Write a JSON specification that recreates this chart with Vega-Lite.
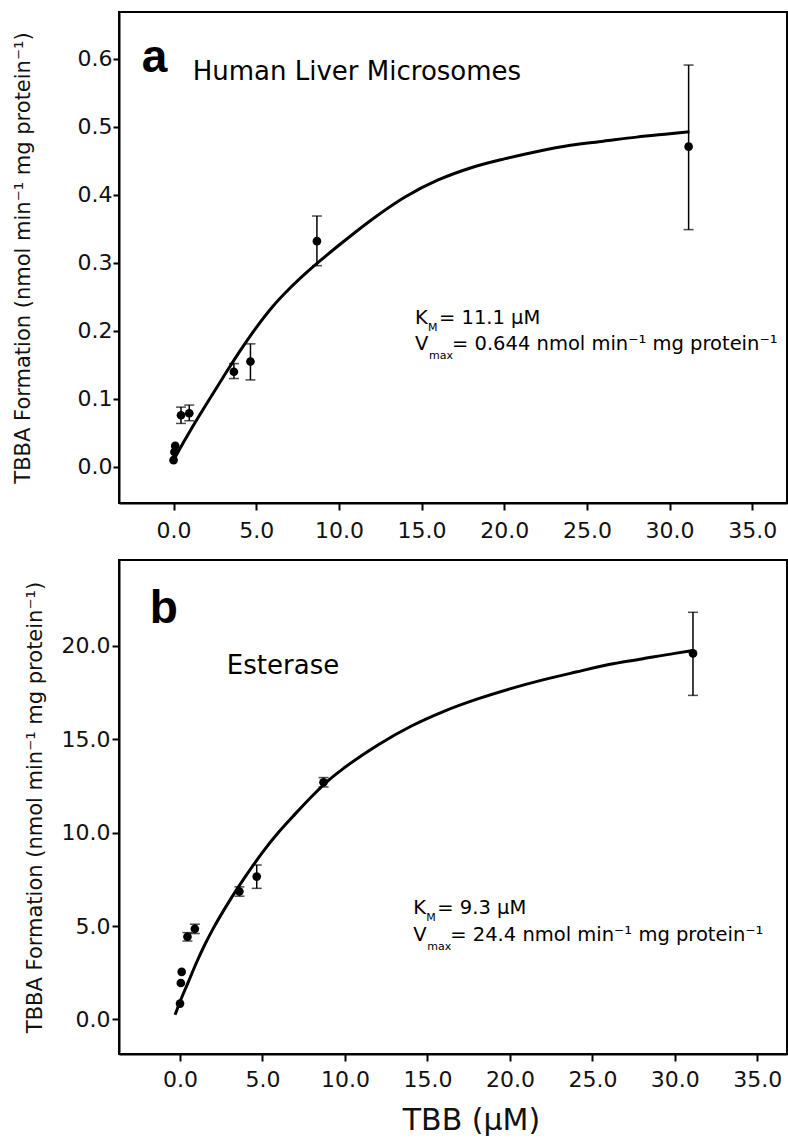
{
  "$schema": "https://vega.github.io/schema/vega-lite/v6.json",
  "background": "white",
  "padding": {"left": 10, "top": 11, "right": 0, "bottom": 0},
  "spacing": 17,
  "config": {
    "font": "DejaVu Sans",
    "view": {"stroke": "black", "strokeWidth": 2},
    "axis": {
      "grid": false,
      "domainColor": "black",
      "domainWidth": 2,
      "tickColor": "black",
      "tickWidth": 2,
      "labelFont": "DejaVu Sans",
      "labelFontSize": 22,
      "labelColor": "#111111",
      "titleFont": "DejaVu Sans",
      "titleFontWeight": "normal",
      "titleColor": "#111111"
    }
  },
  "datasets": {
    "curveA": [
      {"x": 0, "y": 0.010}, {"x": 0.5, "y": 0.032}, {"x": 1, "y": 0.053}, {"x": 2, "y": 0.093},
      {"x": 3, "y": 0.132}, {"x": 4, "y": 0.170}, {"x": 5, "y": 0.205}, {"x": 6, "y": 0.236},
      {"x": 7, "y": 0.262}, {"x": 8, "y": 0.285}, {"x": 9, "y": 0.306}, {"x": 10, "y": 0.326},
      {"x": 12, "y": 0.364}, {"x": 14, "y": 0.397}, {"x": 16, "y": 0.422}, {"x": 18, "y": 0.440},
      {"x": 20, "y": 0.453}, {"x": 22, "y": 0.464}, {"x": 24, "y": 0.473}, {"x": 26, "y": 0.479},
      {"x": 28, "y": 0.485}, {"x": 30, "y": 0.490}, {"x": 31.2, "y": 0.493}
    ],
    "pointsA": [
      {"x": 0.0, "y": 0.010, "lo": null, "hi": null},
      {"x": 0.05, "y": 0.022, "lo": null, "hi": null},
      {"x": 0.1, "y": 0.031, "lo": null, "hi": null},
      {"x": 0.45, "y": 0.076, "lo": 0.064, "hi": 0.088},
      {"x": 0.95, "y": 0.079, "lo": 0.068, "hi": 0.091},
      {"x": 3.65, "y": 0.140, "lo": 0.130, "hi": 0.152},
      {"x": 4.65, "y": 0.155, "lo": 0.128, "hi": 0.181},
      {"x": 8.67, "y": 0.332, "lo": 0.296, "hi": 0.369},
      {"x": 31.15, "y": 0.471, "lo": 0.349, "hi": 0.591}
    ],
    "textA": [
      {"role": "letter", "text": "a", "x": -1.92, "y": 0.581},
      {"role": "title", "text": "Human Liver Microsomes", "x": 1.16, "y": 0.569},
      {"role": "main", "text": "K", "x": 14.6, "y": 0.210},
      {"role": "subK", "text": "M", "x": 14.6, "y": 0.210},
      {"role": "restK", "text": "= 11.1 μM", "x": 14.6, "y": 0.210},
      {"role": "main", "text": "V", "x": 14.6, "y": 0.172},
      {"role": "subV", "text": "max", "x": 14.6, "y": 0.172},
      {"role": "restV", "text": "= 0.644 nmol min⁻¹ mg protein⁻¹", "x": 14.6, "y": 0.172}
    ],
    "curveB": [
      {"x": -0.3, "y": 0.25}, {"x": 0, "y": 0.95}, {"x": 0.5, "y": 2.0}, {"x": 1, "y": 3.05},
      {"x": 1.5, "y": 4.0}, {"x": 2, "y": 4.85}, {"x": 3, "y": 6.35}, {"x": 4, "y": 7.7},
      {"x": 5, "y": 8.95}, {"x": 6, "y": 10.05}, {"x": 7, "y": 11.02}, {"x": 8, "y": 11.95},
      {"x": 9, "y": 12.8}, {"x": 10, "y": 13.5}, {"x": 12, "y": 14.7}, {"x": 14, "y": 15.7},
      {"x": 16, "y": 16.5}, {"x": 18, "y": 17.15}, {"x": 20, "y": 17.7}, {"x": 22, "y": 18.18},
      {"x": 24, "y": 18.6}, {"x": 26, "y": 19.0}, {"x": 28, "y": 19.3}, {"x": 30, "y": 19.6},
      {"x": 31.1, "y": 19.75}
    ],
    "pointsB": [
      {"x": 0.0, "y": 0.85, "lo": null, "hi": null},
      {"x": 0.05, "y": 1.95, "lo": null, "hi": null},
      {"x": 0.1, "y": 2.55, "lo": null, "hi": null},
      {"x": 0.45, "y": 4.43, "lo": 4.2, "hi": 4.65},
      {"x": 0.9, "y": 4.85, "lo": 4.6, "hi": 5.1},
      {"x": 3.6, "y": 6.85, "lo": 6.6, "hi": 7.1},
      {"x": 4.65, "y": 7.65, "lo": 7.02, "hi": 8.27},
      {"x": 8.7, "y": 12.7, "lo": 12.45, "hi": 12.95},
      {"x": 31.1, "y": 19.6, "lo": 17.35, "hi": 21.8}
    ],
    "textB": [
      {"role": "letter", "text": "b", "x": -1.83, "y": 21.25},
      {"role": "title", "text": "Esterase", "x": 2.84, "y": 18.49},
      {"role": "main", "text": "K", "x": 14.14, "y": 5.645},
      {"role": "subK", "text": "M", "x": 14.14, "y": 5.645},
      {"role": "restK", "text": "= 9.3 μM", "x": 14.14, "y": 5.645},
      {"role": "main", "text": "V", "x": 14.14, "y": 4.216},
      {"role": "subV", "text": "max", "x": 14.14, "y": 4.216},
      {"role": "restV", "text": "= 24.4 nmol min⁻¹ mg protein⁻¹", "x": 14.14, "y": 4.216}
    ]
  },
  "vconcat": [
    {
      "width": 668,
      "height": 491,
      "layer": [
        {
          "data": {"name": "curveA"},
          "mark": {"type": "line", "color": "black", "strokeWidth": 3, "interpolate": "monotone"},
          "encoding": {
            "x": {"field": "x", "type": "quantitative", "title": null,
              "scale": {"domain": [-3.3, 37.1], "nice": false, "zero": false},
              "axis": {"values": [0, 5, 10, 15, 20, 25, 30, 35], "format": ".1f", "title": null, "tickSize": 7, "labelPadding": 10}},
            "y": {"field": "y", "type": "quantitative", "title": "TBBA Formation (nmol min⁻¹ mg protein⁻¹)",
              "scale": {"domain": [-0.053, 0.669], "nice": false, "zero": false},
              "axis": {"values": [0, 0.1, 0.2, 0.3, 0.4, 0.5, 0.6], "format": ".1f",
                "title": "TBBA Formation (nmol min⁻¹ mg protein⁻¹)", "titleFontSize": 21, "titleX": -86,
                "tickSize": 6, "labelPadding": 1}}
          }
        },
        {
          "data": {"name": "pointsA"},
          "transform": [{"filter": "datum.lo != null"}],
          "mark": {"type": "errorbar", "color": "black", "thickness": 1.5, "ticks": {"size": 10, "thickness": 1.5}},
          "encoding": {
            "x": {"field": "x", "type": "quantitative", "title": null},
            "y": {"field": "lo", "type": "quantitative", "title": "TBBA Formation (nmol min⁻¹ mg protein⁻¹)"},
            "y2": {"field": "hi"}
          }
        },
        {
          "data": {"name": "pointsA"},
          "mark": {"type": "point", "filled": true, "color": "black", "opacity": 1, "size": 75},
          "encoding": {
            "x": {"field": "x", "type": "quantitative", "title": null},
            "y": {"field": "y", "type": "quantitative", "title": "TBBA Formation (nmol min⁻¹ mg protein⁻¹)"}
          }
        },
        {
          "data": {"name": "textA"},
          "transform": [{"filter": "datum.role == 'letter'"}],
          "mark": {"type": "text", "font": "Liberation Sans", "fontWeight": "bold", "fontSize": 46, "align": "left", "baseline": "alphabetic", "color": "black"},
          "encoding": {"x": {"field": "x", "type": "quantitative"}, "y": {"field": "y", "type": "quantitative"}, "text": {"field": "text"}}
        },
        {
          "data": {"name": "textA"},
          "transform": [{"filter": "datum.role == 'title'"}],
          "mark": {"type": "text", "fontSize": 26, "align": "left", "baseline": "alphabetic", "color": "black"},
          "encoding": {"x": {"field": "x", "type": "quantitative"}, "y": {"field": "y", "type": "quantitative"}, "text": {"field": "text"}}
        },
        {
          "data": {"name": "textA"},
          "transform": [{"filter": "datum.role == 'main'"}],
          "mark": {"type": "text", "fontSize": 19.5, "align": "left", "baseline": "alphabetic", "color": "black"},
          "encoding": {"x": {"field": "x", "type": "quantitative"}, "y": {"field": "y", "type": "quantitative"}, "text": {"field": "text"}}
        },
        {
          "data": {"name": "textA"},
          "transform": [{"filter": "datum.role == 'subK'"}],
          "mark": {"type": "text", "fontSize": 11, "align": "left", "baseline": "alphabetic", "color": "black", "dx": 13, "dy": 7},
          "encoding": {"x": {"field": "x", "type": "quantitative"}, "y": {"field": "y", "type": "quantitative"}, "text": {"field": "text"}}
        },
        {
          "data": {"name": "textA"},
          "transform": [{"filter": "datum.role == 'restK'"}],
          "mark": {"type": "text", "fontSize": 19.5, "align": "left", "baseline": "alphabetic", "color": "black", "dx": 24},
          "encoding": {"x": {"field": "x", "type": "quantitative"}, "y": {"field": "y", "type": "quantitative"}, "text": {"field": "text"}}
        },
        {
          "data": {"name": "textA"},
          "transform": [{"filter": "datum.role == 'subV'"}],
          "mark": {"type": "text", "fontSize": 11, "align": "left", "baseline": "alphabetic", "color": "black", "dx": 14, "dy": 9},
          "encoding": {"x": {"field": "x", "type": "quantitative"}, "y": {"field": "y", "type": "quantitative"}, "text": {"field": "text"}}
        },
        {
          "data": {"name": "textA"},
          "transform": [{"filter": "datum.role == 'restV'"}],
          "mark": {"type": "text", "fontSize": 19.5, "align": "left", "baseline": "alphabetic", "color": "black", "dx": 37},
          "encoding": {"x": {"field": "x", "type": "quantitative"}, "y": {"field": "y", "type": "quantitative"}, "text": {"field": "text"}}
        }
      ]
    },
    {
      "width": 668,
      "height": 494,
      "layer": [
        {
          "data": {"name": "curveB"},
          "mark": {"type": "line", "color": "black", "strokeWidth": 3, "interpolate": "monotone"},
          "encoding": {
            "x": {"field": "x", "type": "quantitative", "title": "TBB (μM)",
              "scale": {"domain": [-3.7, 36.8], "nice": false, "zero": false},
              "axis": {"values": [0, 5, 10, 15, 20, 25, 30, 35], "format": ".1f", "title": "TBB (μM)", "titleFontSize": 30,
                "titleX": 352, "titleY": 51, "tickSize": 7, "labelPadding": 8}},
            "y": {"field": "y", "type": "quantitative", "title": "TBBA Formation (nmol min⁻¹ mg protein⁻¹)",
              "scale": {"domain": [-1.85, 24.6], "nice": false, "zero": false},
              "axis": {"values": [0, 5, 10, 15, 20], "format": ".1f",
                "title": "TBBA Formation (nmol min⁻¹ mg protein⁻¹)", "titleFontSize": 21, "titleX": -74,
                "tickSize": 7, "labelPadding": 2}}
          }
        },
        {
          "data": {"name": "pointsB"},
          "transform": [{"filter": "datum.lo != null"}],
          "mark": {"type": "errorbar", "color": "black", "thickness": 1.5, "ticks": {"size": 10, "thickness": 1.5}},
          "encoding": {
            "x": {"field": "x", "type": "quantitative", "title": "TBB (μM)"},
            "y": {"field": "lo", "type": "quantitative", "title": "TBBA Formation (nmol min⁻¹ mg protein⁻¹)"},
            "y2": {"field": "hi"}
          }
        },
        {
          "data": {"name": "pointsB"},
          "mark": {"type": "point", "filled": true, "color": "black", "opacity": 1, "size": 75},
          "encoding": {
            "x": {"field": "x", "type": "quantitative", "title": "TBB (μM)"},
            "y": {"field": "y", "type": "quantitative", "title": "TBBA Formation (nmol min⁻¹ mg protein⁻¹)"}
          }
        },
        {
          "data": {"name": "textB"},
          "transform": [{"filter": "datum.role == 'letter'"}],
          "mark": {"type": "text", "font": "Liberation Sans", "fontWeight": "bold", "fontSize": 46, "align": "left", "baseline": "alphabetic", "color": "black"},
          "encoding": {"x": {"field": "x", "type": "quantitative"}, "y": {"field": "y", "type": "quantitative"}, "text": {"field": "text"}}
        },
        {
          "data": {"name": "textB"},
          "transform": [{"filter": "datum.role == 'title'"}],
          "mark": {"type": "text", "fontSize": 26, "align": "left", "baseline": "alphabetic", "color": "black"},
          "encoding": {"x": {"field": "x", "type": "quantitative"}, "y": {"field": "y", "type": "quantitative"}, "text": {"field": "text"}}
        },
        {
          "data": {"name": "textB"},
          "transform": [{"filter": "datum.role == 'main'"}],
          "mark": {"type": "text", "fontSize": 19.5, "align": "left", "baseline": "alphabetic", "color": "black"},
          "encoding": {"x": {"field": "x", "type": "quantitative"}, "y": {"field": "y", "type": "quantitative"}, "text": {"field": "text"}}
        },
        {
          "data": {"name": "textB"},
          "transform": [{"filter": "datum.role == 'subK'"}],
          "mark": {"type": "text", "fontSize": 11, "align": "left", "baseline": "alphabetic", "color": "black", "dx": 13, "dy": 7},
          "encoding": {"x": {"field": "x", "type": "quantitative"}, "y": {"field": "y", "type": "quantitative"}, "text": {"field": "text"}}
        },
        {
          "data": {"name": "textB"},
          "transform": [{"filter": "datum.role == 'restK'"}],
          "mark": {"type": "text", "fontSize": 19.5, "align": "left", "baseline": "alphabetic", "color": "black", "dx": 24},
          "encoding": {"x": {"field": "x", "type": "quantitative"}, "y": {"field": "y", "type": "quantitative"}, "text": {"field": "text"}}
        },
        {
          "data": {"name": "textB"},
          "transform": [{"filter": "datum.role == 'subV'"}],
          "mark": {"type": "text", "fontSize": 11, "align": "left", "baseline": "alphabetic", "color": "black", "dx": 14, "dy": 9},
          "encoding": {"x": {"field": "x", "type": "quantitative"}, "y": {"field": "y", "type": "quantitative"}, "text": {"field": "text"}}
        },
        {
          "data": {"name": "textB"},
          "transform": [{"filter": "datum.role == 'restV'"}],
          "mark": {"type": "text", "fontSize": 19.5, "align": "left", "baseline": "alphabetic", "color": "black", "dx": 37},
          "encoding": {"x": {"field": "x", "type": "quantitative"}, "y": {"field": "y", "type": "quantitative"}, "text": {"field": "text"}}
        }
      ]
    }
  ]
}
